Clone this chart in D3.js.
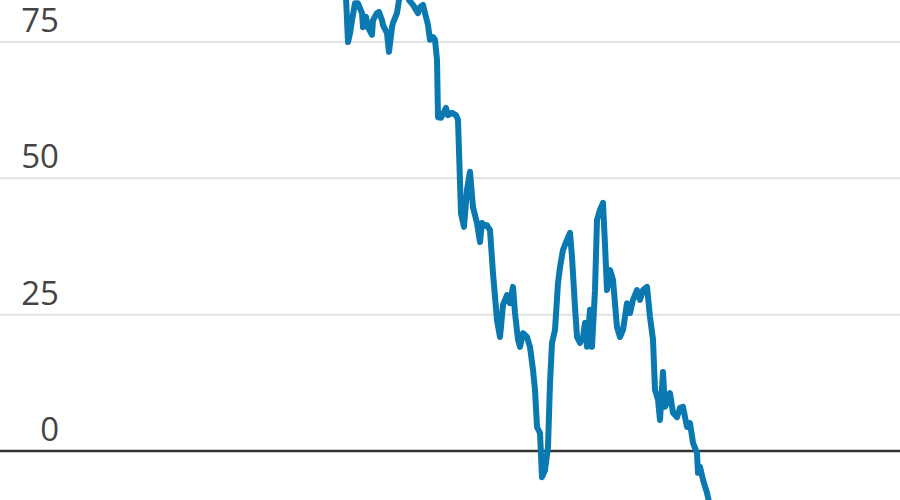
<!DOCTYPE html>
<html>
<head>
<meta charset="utf-8">
<script src="https://cdn.jsdelivr.net/npm/d3@7"></script>
<style>
  html, body { margin: 0; padding: 0; background: #fff; }
  svg { display: block; }
</style>
</head>
<body>
<svg width="900" height="500"></svg>
<script>
// days since the first visible point, and the index value on each of them
var days = [0, 3, 5, 7, 10, 13, 17, 18, 21, 23, 27, 28, 32, 34, 37, 38, 42, 44, 47, 48,
  52, 54, 59, 64, 68, 71, 73, 75, 78, 80, 83, 85, 88, 90, 92, 93, 96, 101, 103, 107,
  111, 113, 116, 119, 122, 125, 128, 132, 135, 137, 140, 142, 145, 148, 152, 155, 158, 162, 165, 168,
  170, 173, 175, 178, 182, 185, 188, 190, 192, 195, 197, 200, 203, 205, 207, 210, 213, 215, 218, 222,
  225, 227, 230, 232, 235, 238, 240, 242, 245, 247, 250, 252, 255, 258, 260, 262, 265, 268, 272, 275,
  278, 282, 285, 288, 292, 295, 298, 302, 305, 308, 310, 313, 315, 318, 320, 323, 325, 328, 332, 335,
  338, 342, 345, 348, 352, 353, 355, 358, 362, 367];

var values = [87.3, 75.0, 76.6, 79.0, 82.1, 82.1, 80.3, 77.7, 79.6, 77.7, 76.3, 79.0, 80.3, 80.5, 79.0, 78.1, 76.6, 73.2, 77.7, 78.5,
  80.3, 82.7, 85.3, 82.7, 81.8, 80.9, 80.3, 81.4, 81.8, 80.3, 78.1, 75.4, 75.9, 75.4, 71.7, 61.2, 61.1, 62.9, 61.6, 62.0,
  61.6, 60.7, 43.6, 41.1, 47.9, 51.2, 44.7, 41.8, 38.3, 41.8, 41.3, 41.4, 40.5, 32.6, 24.0, 20.9, 26.8, 28.6, 27.1, 30.1,
  25.3, 20.4, 19.1, 21.6, 20.9, 19.1, 14.9, 11.2, 4.4, 3.3, -4.8, -3.5, 0.7, 12.5, 19.8, 22.2, 30.8, 33.7, 36.9, 38.7,
  40.0, 35.6, 26.4, 20.9, 19.8, 20.9, 23.5, 19.1, 25.9, 19.1, 29.5, 42.4, 44.2, 45.5, 37.8, 29.5, 33.2, 31.4, 22.7, 20.9,
  22.2, 27.1, 25.3, 27.7, 29.5, 27.7, 29.5, 30.1, 24.6, 20.4, 11.2, 9.4, 5.7, 14.5, 8.1, 9.4, 10.6, 7.0, 6.2, 7.9,
  8.1, 4.4, 5.1, 1.5, -0.4, -4.0, -2.9, -5.3, -7.7, -11.7];

var yTicks = [0, 25, 50, 75];

var svg = d3.select("svg");
var width = +svg.attr("width");
var height = +svg.attr("height");

var x = d3.scaleLinear().domain([-345, 555]).range([0, width]);
var y = d3.scaleLinear().domain([0, 75]).range([451, 42]);

var data = days.map(function(d, i) { return {day: d, value: values[i]}; });

// grid lines
svg.append("g")
  .selectAll("line")
  .data(yTicks)
  .enter().append("line")
  .attr("x1", 0)
  .attr("x2", width)
  .attr("y1", function(d) { return y(d); })
  .attr("y2", function(d) { return y(d); })
  .attr("stroke", function(d) { return d === 0 ? "#333" : "#e2e2e2"; })
  .attr("stroke-width", function(d) { return d === 0 ? 2.5 : 2; });

// tick labels sit above their lines
svg.append("g")
  .selectAll("text")
  .data(yTicks)
  .enter().append("text")
  .attr("x", 59)
  .attr("y", function(d) { return y(d) - 10; })
  .attr("text-anchor", "end")
  .attr("font-family", "'Open Sans', sans-serif")
  .attr("font-size", 33)
  .attr("fill", "#444")
  .text(function(d) { return d; });

var line = d3.line()
  .x(function(d) { return x(d.day); })
  .y(function(d) { return y(d.value); });

svg.append("path")
  .datum(data)
  .attr("d", line)
  .attr("fill", "none")
  .attr("stroke", "#0b79b1")
  .attr("stroke-width", 6)
  .attr("stroke-linejoin", "round");
</script>
</body>
</html>
